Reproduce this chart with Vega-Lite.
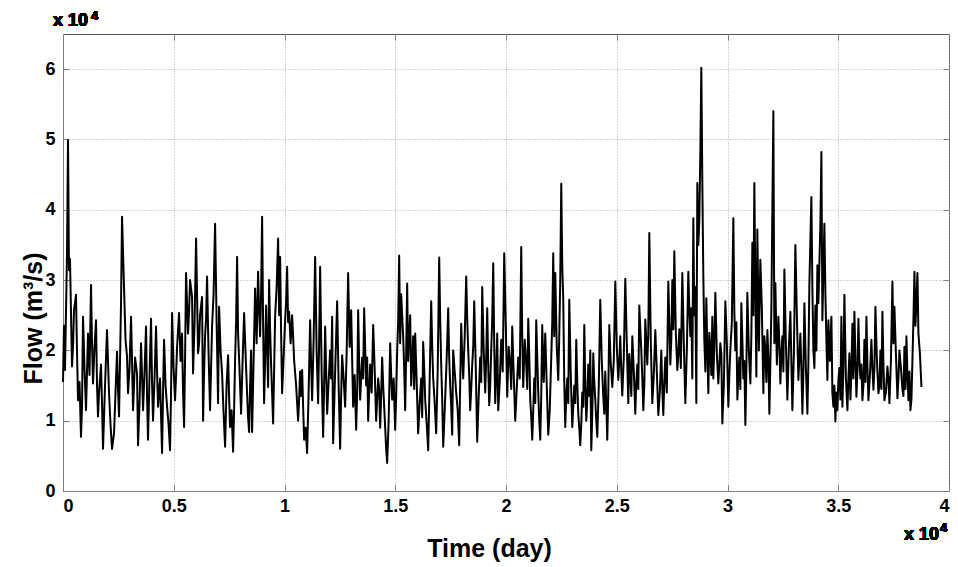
{
  "$schema": "https://vega.github.io/schema/vega-lite/v6.json",
  "width": 886,
  "height": 457,
  "autosize": {"type": "none"},
  "padding": {"left": 63, "top": 34, "right": 9, "bottom": 76},
  "background": "white",
  "config": {
    "view": {"stroke": "#555555", "strokeWidth": 1},
    "axis": {
      "labelFont": "Liberation Sans",
      "labelFontWeight": "bold",
      "labelFontSize": 18,
      "labelColor": "#000000",
      "titleFont": "Liberation Sans",
      "titleFontWeight": "bold",
      "titleFontSize": 25,
      "titleColor": "#000000",
      "domainColor": "#808080",
      "grid": true,
      "gridColor": "#a8a8a8",
      "gridDash": [1, 2],
      "gridWidth": 1,
      "tickColor": "#808080",
      "tickSize": -6
    }
  },
  "resolve": {"axis": {"x": "independent", "y": "independent"}},
  "data": {
    "values": [
      {"d":0,"q":15500},{"d":45,"q":23500},{"d":90,"q":17200},{"d":181,"q":33800},{"d":226,"q":49900},{"d":271,"q":31400},{"d":316,"q":33000},{"d":407,"q":17700},{"d":497,"q":25700},{"d":587,"q":27900},
      {"d":678,"q":12900},{"d":813,"q":7700},{"d":903,"q":24800},{"d":1039,"q":11500},{"d":1129,"q":22400},{"d":1265,"q":29300},{"d":1355,"q":15300},{"d":1491,"q":24300},{"d":1581,"q":10600},{"d":1626,"q":13900},
      {"d":1716,"q":18000},{"d":1807,"q":6000},{"d":1897,"q":15000},{"d":1987,"q":22900},{"d":2078,"q":13900},{"d":2213,"q":6000},{"d":2304,"q":8200},{"d":2439,"q":19800},{"d":2530,"q":10600},{"d":2620,"q":26700},
      {"d":2665,"q":39000},{"d":2755,"q":29000},{"d":2891,"q":19100},{"d":2936,"q":13900},{"d":3072,"q":24800},{"d":3162,"q":11500},{"d":3252,"q":19000},{"d":3343,"q":16700},{"d":3388,"q":6500},{"d":3523,"q":21000},
      {"d":3614,"q":11500},{"d":3749,"q":23400},{"d":3839,"q":7300},{"d":3975,"q":24500},{"d":4065,"q":10000},{"d":4201,"q":23400},{"d":4291,"q":12000},{"d":4381,"q":16000},{"d":4472,"q":5400},{"d":4562,"q":21500},
      {"d":4698,"q":12000},{"d":4833,"q":5800},{"d":4924,"q":25300},{"d":5059,"q":12900},{"d":5240,"q":25300},{"d":5375,"q":22400},{"d":5466,"q":9100},{"d":5556,"q":31000},{"d":5646,"q":22400},{"d":5737,"q":30000},
      {"d":5827,"q":27600},{"d":5872,"q":16700},{"d":6008,"q":35900},{"d":6098,"q":19600},{"d":6188,"q":25000},{"d":6279,"q":27600},{"d":6324,"q":10000},{"d":6504,"q":30500},{"d":6640,"q":11500},{"d":6730,"q":23400},
      {"d":6866,"q":38000},{"d":7001,"q":12500},{"d":7047,"q":26200},{"d":7182,"q":16700},{"d":7318,"q":6300},{"d":7453,"q":19300},{"d":7543,"q":9100},{"d":7679,"q":5600},{"d":7769,"q":18600},{"d":7860,"q":33300},
      {"d":7905,"q":22400},{"d":8040,"q":11000},{"d":8176,"q":25300},{"d":8311,"q":13900},{"d":8402,"q":8400},{"d":8492,"q":20000},{"d":8537,"q":8400},{"d":8673,"q":28800},{"d":8808,"q":31200},{"d":8898,"q":22000},
      {"d":8989,"q":39000},{"d":9079,"q":12500},{"d":9170,"q":26400},{"d":9260,"q":14800},{"d":9305,"q":30000},{"d":9395,"q":18000},{"d":9486,"q":9600},{"d":9576,"q":24800},{"d":9712,"q":35900},{"d":9802,"q":33300},
      {"d":9892,"q":13900},{"d":10028,"q":24300},{"d":10118,"q":31900},{"d":10208,"q":25500},{"d":10344,"q":25000},{"d":10434,"q":18600},{"d":10525,"q":15000},{"d":10615,"q":10000},{"d":10705,"q":17000},{"d":10796,"q":17200},
      {"d":10886,"q":7300},{"d":11021,"q":5400},{"d":11157,"q":24300},{"d":11247,"q":12900},{"d":11383,"q":33300},{"d":11518,"q":12500},{"d":11609,"q":31900},{"d":11744,"q":7700},{"d":11835,"q":23400},{"d":11925,"q":11000},
      {"d":12060,"q":20000},{"d":12151,"q":24800},{"d":12196,"q":6800},{"d":12377,"q":27000},{"d":12512,"q":6000},{"d":12602,"q":19300},{"d":12738,"q":12000},{"d":12873,"q":31000},{"d":13009,"q":25700},{"d":13099,"q":12000},
      {"d":13235,"q":8700},{"d":13325,"q":25700},{"d":13415,"q":13000},{"d":13506,"q":19000},{"d":13596,"q":26000},{"d":13686,"q":15000},{"d":13777,"q":10000},{"d":13867,"q":18000},{"d":14003,"q":23600},{"d":14138,"q":10000},
      {"d":14229,"q":16000},{"d":14319,"q":9000},{"d":14409,"q":19000},{"d":14500,"q":12000},{"d":14590,"q":6000},{"d":14635,"q":4000},{"d":14771,"q":21000},{"d":14861,"q":13000},{"d":14996,"q":8700},{"d":15087,"q":20000},
      {"d":15177,"q":33500},{"d":15267,"q":28000},{"d":15358,"q":22000},{"d":15448,"q":11500},{"d":15538,"q":29500},{"d":15629,"q":22000},{"d":15719,"q":15000},{"d":15810,"q":22000},{"d":15900,"q":22400},{"d":16035,"q":8200},
      {"d":16171,"q":16000},{"d":16261,"q":21200},{"d":16352,"q":13000},{"d":16487,"q":5800},{"d":16623,"q":27000},{"d":16713,"q":16000},{"d":16848,"q":8200},{"d":16984,"q":33200},{"d":17074,"q":18000},{"d":17165,"q":6300},
      {"d":17300,"q":17000},{"d":17390,"q":26000},{"d":17481,"q":15000},{"d":17571,"q":8000},{"d":17616,"q":20000},{"d":17752,"q":14000},{"d":17887,"q":6500},{"d":17978,"q":23800},{"d":18068,"q":16000},{"d":18204,"q":30500},
      {"d":18294,"q":20000},{"d":18384,"q":11500},{"d":18475,"q":18000},{"d":18565,"q":27000},{"d":18700,"q":7000},{"d":18836,"q":19000},{"d":18926,"q":29000},{"d":19062,"q":14000},{"d":19152,"q":26000},{"d":19242,"q":12200},
      {"d":19423,"q":32400},{"d":19513,"q":12500},{"d":19604,"q":22400},{"d":19649,"q":11500},{"d":19784,"q":21500},{"d":19920,"q":33800},{"d":20055,"q":13400},{"d":20191,"q":18000},{"d":20281,"q":23400},{"d":20417,"q":10000},
      {"d":20552,"q":19000},{"d":20688,"q":34700},{"d":20778,"q":14800},{"d":20914,"q":18000},{"d":21004,"q":24500},{"d":21094,"q":13000},{"d":21185,"q":7300},{"d":21275,"q":16000},{"d":21365,"q":24300},{"d":21456,"q":14000},
      {"d":21546,"q":7300},{"d":21636,"q":23600},{"d":21772,"q":22400},{"d":21907,"q":8000},{"d":22043,"q":19000},{"d":22133,"q":33800},{"d":22224,"q":31000},{"d":22359,"q":15800},{"d":22449,"q":30000},{"d":22495,"q":43700},
      {"d":22585,"q":27200},{"d":22675,"q":9100},{"d":22766,"q":16000},{"d":22856,"q":27200},{"d":22992,"q":9100},{"d":23082,"q":15000},{"d":23172,"q":21500},{"d":23263,"q":11000},{"d":23353,"q":6500},{"d":23443,"q":14000},
      {"d":23534,"q":23600},{"d":23624,"q":10000},{"d":23714,"q":18000},{"d":23805,"q":20000},{"d":23850,"q":5800},{"d":23940,"q":19600},{"d":24030,"q":13000},{"d":24121,"q":7700},{"d":24256,"q":27200},{"d":24392,"q":13400},
      {"d":24482,"q":17000},{"d":24572,"q":7300},{"d":24663,"q":23600},{"d":24798,"q":14800},{"d":24934,"q":29800},{"d":25069,"q":15800},{"d":25160,"q":22000},{"d":25250,"q":13600},{"d":25386,"q":30200},{"d":25521,"q":12500},
      {"d":25611,"q":17000},{"d":25702,"q":22000},{"d":25837,"q":11000},{"d":25928,"q":18000},{"d":26018,"q":26400},{"d":26108,"q":20000},{"d":26199,"q":11500},{"d":26289,"q":24400},{"d":26379,"q":18000},{"d":26470,"q":36700},
      {"d":26605,"q":12500},{"d":26741,"q":22900},{"d":26876,"q":10800},{"d":27012,"q":20000},{"d":27102,"q":10800},{"d":27192,"q":19000},{"d":27328,"q":29800},{"d":27418,"q":18000},{"d":27509,"q":30000},{"d":27599,"q":34100},
      {"d":27734,"q":17200},{"d":27825,"q":23000},{"d":27960,"q":31000},{"d":28096,"q":12500},{"d":28231,"q":31200},{"d":28322,"q":22000},{"d":28412,"q":16000},{"d":28457,"q":38800},{"d":28502,"q":25000},{"d":28593,"q":12500},
      {"d":28638,"q":43800},{"d":28683,"q":35000},{"d":28728,"q":38600},{"d":28773,"q":48000},{"d":28818,"q":60200},{"d":28864,"q":43800},{"d":28954,"q":21500},{"d":29044,"q":27400},{"d":29135,"q":13900},{"d":29225,"q":20000},
      {"d":29315,"q":24800},{"d":29361,"q":16000},{"d":29451,"q":28200},{"d":29586,"q":15300},{"d":29677,"q":21000},{"d":29767,"q":9600},{"d":29903,"q":27000},{"d":30038,"q":12000},{"d":30128,"q":20000},{"d":30264,"q":38800},
      {"d":30354,"q":20000},{"d":30445,"q":13000},{"d":30535,"q":19000},{"d":30625,"q":26700},{"d":30716,"q":16000},{"d":30806,"q":9400},{"d":30896,"q":28200},{"d":31032,"q":15300},{"d":31122,"q":35300},{"d":31212,"q":43800},
      {"d":31303,"q":16300},{"d":31348,"q":37200},{"d":31483,"q":32900},{"d":31619,"q":13900},{"d":31709,"q":20000},{"d":31800,"q":22900},{"d":31890,"q":11000},{"d":31980,"q":25800},{"d":32071,"q":54000},{"d":32161,"q":29600},
      {"d":32297,"q":24800},{"d":32387,"q":15300},{"d":32477,"q":22000},{"d":32568,"q":31500},{"d":32703,"q":13000},{"d":32839,"q":25500},{"d":32929,"q":11500},{"d":33064,"q":35000},{"d":33200,"q":15800},{"d":33290,"q":22400},
      {"d":33381,"q":11000},{"d":33471,"q":26700},{"d":33606,"q":11000},{"d":33697,"q":29500},{"d":33787,"q":41800},{"d":33878,"q":20000},{"d":33968,"q":26400},{"d":34058,"q":32100},{"d":34103,"q":26700},{"d":34194,"q":38000},
      {"d":34239,"q":48200},{"d":34284,"q":24300},{"d":34374,"q":38000},{"d":34420,"q":28000},{"d":34510,"q":15800},{"d":34555,"q":24300},{"d":34691,"q":24800},{"d":34736,"q":13900},{"d":34781,"q":12000},{"d":34871,"q":9900},
      {"d":34916,"q":14000},{"d":35007,"q":15800},{"d":35097,"q":13000},{"d":35142,"q":24800},{"d":35187,"q":12000},{"d":35278,"q":27900},{"d":35413,"q":11500},{"d":35504,"q":19600},{"d":35549,"q":13000},{"d":35639,"q":23800},
      {"d":35729,"q":25500},{"d":35820,"q":13400},{"d":35910,"q":24500},{"d":36000,"q":16000},{"d":36091,"q":12900},{"d":36181,"q":21500},{"d":36272,"q":24800},{"d":36362,"q":12900},{"d":36497,"q":21500},{"d":36588,"q":14400},
      {"d":36678,"q":26200},{"d":36814,"q":13900},{"d":36904,"q":20000},{"d":36994,"q":25500},{"d":37085,"q":12900},{"d":37220,"q":17700},{"d":37310,"q":12500},{"d":37446,"q":29800},{"d":37536,"q":26200},{"d":37672,"q":13200},
      {"d":37762,"q":20000},{"d":37898,"q":14400},{"d":37988,"q":20500},{"d":38078,"q":22000},{"d":38169,"q":12900},{"d":38259,"q":11500},{"d":38349,"q":18600},{"d":38440,"q":31200},{"d":38530,"q":27000},{"d":38575,"q":31000},
      {"d":38620,"q":22400},{"d":38756,"q":14800},
      {"d":452,"q":20500},{"d":632,"q":20000},{"d":745,"q":15500},{"d":858,"q":12000},{"d":970,"q":17500},{"d":1197,"q":16500},{"d":1310,"q":21000},{"d":1423,"q":20500},{"d":1536,"q":15000},{"d":1761,"q":12500},
      {"d":1852,"q":10500},{"d":1942,"q":19000},{"d":2145,"q":9500},{"d":2371,"q":14000},{"d":2485,"q":14500},{"d":2823,"q":21500},{"d":3004,"q":17500},{"d":3117,"q":18500},{"d":3207,"q":15000},{"d":3455,"q":12500},
      {"d":3568,"q":16500},{"d":3681,"q":17000},{"d":3794,"q":13500},{"d":3907,"q":16500},{"d":4020,"q":15500},{"d":4133,"q":16000},{"d":4246,"q":17000},{"d":4517,"q":14000},{"d":4630,"q":15000},{"d":4765,"q":9500},
      {"d":4878,"q":14000},{"d":4991,"q":17500},{"d":5105,"q":16500},{"d":5150,"q":20500},{"d":5307,"q":18500},{"d":5420,"q":14000},{"d":5511,"q":19000},{"d":5691,"q":25500},{"d":5940,"q":24000},{"d":6143,"q":21000},
      {"d":6370,"q":17000},{"d":6414,"q":22000},{"d":6460,"q":24500},{"d":6572,"q":19500},{"d":6685,"q":17500},{"d":6798,"q":28000},{"d":6933,"q":24500},{"d":7115,"q":20000},{"d":7250,"q":11000},{"d":7385,"q":15000},
      {"d":7498,"q":13500},{"d":7611,"q":11500},{"d":7724,"q":11500},{"d":7815,"q":24000},{"d":7972,"q":17000},{"d":8108,"q":18500},{"d":8243,"q":19500},{"d":8356,"q":10500},{"d":8447,"q":15000},{"d":8605,"q":18500},
      {"d":8740,"q":21000},{"d":8853,"q":26000},{"d":8943,"q":28000},{"d":9034,"q":24000},{"d":9124,"q":18500},{"d":9215,"q":20500},{"d":9350,"q":23000},{"d":9440,"q":14000},{"d":9531,"q":17000},{"d":9644,"q":29000},
      {"d":9757,"q":25000},{"d":9847,"q":22500},{"d":9960,"q":19000},{"d":10073,"q":27000},{"d":10163,"q":24000},{"d":10276,"q":21000},{"d":10389,"q":22000},{"d":10660,"q":13000},{"d":10750,"q":13500},{"d":10841,"q":12000},
      {"d":10953,"q":9000},{"d":11089,"q":14000},{"d":11202,"q":18000},{"d":11315,"q":21500},{"d":11450,"q":20000},{"d":11563,"q":21000},{"d":11676,"q":17000},{"d":11789,"q":15000},{"d":11880,"q":17000},{"d":11992,"q":15500},
      {"d":12105,"q":16000},{"d":12286,"q":17000},{"d":12444,"q":15000},{"d":12557,"q":13500},{"d":12670,"q":16000},{"d":12805,"q":19500},{"d":12941,"q":20500},{"d":13167,"q":16500},{"d":13280,"q":14000},{"d":13370,"q":18500},
      {"d":13551,"q":16000},{"d":13641,"q":20500},{"d":13731,"q":19000},{"d":13935,"q":14000},{"d":14070,"q":17500},{"d":14183,"q":13000},{"d":14274,"q":14500},{"d":14364,"q":13500},{"d":14455,"q":15000},{"d":14703,"q":10000},
      {"d":14816,"q":16500},{"d":14928,"q":16000},{"d":15041,"q":13500},{"d":15132,"q":24000},{"d":15222,"q":21000},{"d":15312,"q":25000},{"d":15403,"q":17500},{"d":15493,"q":19500},{"d":15583,"q":18500},{"d":15674,"q":25000},
      {"d":15764,"q":18500},{"d":15855,"q":14500},{"d":15968,"q":15500},{"d":16103,"q":12500},{"d":16216,"q":10500},{"d":16307,"q":17500},{"d":16420,"q":9500},{"d":16555,"q":16000},{"d":16668,"q":20500},{"d":16781,"q":12500},
      {"d":16916,"q":17000},{"d":17029,"q":24500},{"d":17120,"q":13000},{"d":17233,"q":11500},{"d":17345,"q":21000},{"d":17435,"q":19000},{"d":17526,"q":12000},{"d":17684,"q":17000},{"d":17820,"q":11500},{"d":17933,"q":15500},
      {"d":18023,"q":19000},{"d":18136,"q":22000},{"d":18249,"q":24500},{"d":18339,"q":16500},{"d":18430,"q":14500},{"d":18520,"q":20500},{"d":18633,"q":18000},{"d":18768,"q":13500},{"d":18881,"q":15500},{"d":18994,"q":20000},
      {"d":19107,"q":19000},{"d":19197,"q":18000},{"d":19287,"q":15000},{"d":19332,"q":20000},{"d":19378,"q":24500},{"d":19468,"q":21000},{"d":19558,"q":16500},{"d":19717,"q":15500},{"d":19852,"q":17000},{"d":19988,"q":24000},
      {"d":20123,"q":20500},{"d":20236,"q":14500},{"d":20349,"q":16500},{"d":20485,"q":14500},{"d":20620,"q":16000},{"d":20733,"q":22000},{"d":20846,"q":21500},{"d":20959,"q":14500},{"d":21049,"q":19500},{"d":21140,"q":10500},
      {"d":21230,"q":11500},{"d":21320,"q":12500},{"d":21411,"q":19000},{"d":21501,"q":10000},{"d":21591,"q":13500},{"d":21704,"q":15500},{"d":21840,"q":15000},{"d":21975,"q":11500},{"d":22088,"q":24000},{"d":22179,"q":22000},
      {"d":22292,"q":20500},{"d":22404,"q":22000},{"d":22540,"q":32000},{"d":22630,"q":15500},{"d":22720,"q":13500},{"d":22811,"q":12500},{"d":22924,"q":16500},{"d":23037,"q":12000},{"d":23127,"q":12500},{"d":23218,"q":15500},
      {"d":23308,"q":9000},{"d":23398,"q":9500},{"d":23489,"q":12000},{"d":23579,"q":15500},{"d":23669,"q":13000},{"d":23760,"q":13500},{"d":23895,"q":11000},{"d":23985,"q":15500},{"d":24076,"q":10000},{"d":24189,"q":15000},
      {"d":24324,"q":18500},{"d":24437,"q":11000},{"d":24527,"q":12500},{"d":24618,"q":14000},{"d":24731,"q":18000},{"d":24866,"q":18500},{"d":25002,"q":20500},{"d":25115,"q":18500},{"d":25205,"q":17000},{"d":25318,"q":19000},
      {"d":25454,"q":21000},{"d":25566,"q":19500},{"d":25657,"q":13500},{"d":25770,"q":17000},{"d":25883,"q":15500},{"d":25973,"q":14500},{"d":26063,"q":23000},{"d":26154,"q":16000},{"d":26244,"q":15000},{"d":26334,"q":21500},
      {"d":26425,"q":22500},{"d":26538,"q":21000},{"d":26673,"q":16500},{"d":26809,"q":17000},{"d":26944,"q":14000},{"d":27057,"q":14500},{"d":27147,"q":15500},{"d":27260,"q":14000},{"d":27373,"q":24000},{"d":27463,"q":21500},
      {"d":27554,"q":23000},{"d":27667,"q":22500},{"d":27780,"q":19500},{"d":27893,"q":17500},{"d":28028,"q":21000},{"d":28164,"q":20000},{"d":28276,"q":26000},{"d":28367,"q":26000},{"d":28548,"q":29000},{"d":28909,"q":30500},
      {"d":29000,"q":17000},{"d":29090,"q":20000},{"d":29180,"q":22500},{"d":29270,"q":16500},{"d":29406,"q":21000},{"d":29519,"q":19500},{"d":29632,"q":18000},{"d":29722,"q":19500},{"d":29835,"q":15000},{"d":29971,"q":21000},
      {"d":30083,"q":16500},{"d":30196,"q":24000},{"d":30309,"q":25500},{"d":30400,"q":24000},{"d":30490,"q":16500},{"d":30580,"q":14500},{"d":30671,"q":21500},{"d":30761,"q":18500},{"d":30851,"q":17000},{"d":30964,"q":20000},
      {"d":31077,"q":22000},{"d":31167,"q":25000},{"d":31258,"q":29000},{"d":31416,"q":20000},{"d":31551,"q":26000},{"d":31664,"q":22000},{"d":31755,"q":15500},{"d":31845,"q":19000},{"d":31935,"q":18000},{"d":32116,"q":21000},
      {"d":32229,"q":18000},{"d":32342,"q":21000},{"d":32432,"q":19500},{"d":32523,"q":17000},{"d":32636,"q":21000},{"d":32771,"q":20500},{"d":32884,"q":18500},{"d":32997,"q":19500},{"d":33132,"q":25000},{"d":33245,"q":19000},
      {"d":33335,"q":17500},{"d":33426,"q":17000},{"d":33539,"q":17500},{"d":33651,"q":18000},{"d":33832,"q":29000},{"d":33923,"q":17500},{"d":34013,"q":20000},{"d":34465,"q":21500},{"d":34623,"q":18500},{"d":34826,"q":15000},
      {"d":34961,"q":11500},{"d":35052,"q":17500},{"d":35232,"q":17500},{"d":35346,"q":16000},{"d":35458,"q":16000},{"d":35594,"q":17000},{"d":35684,"q":16000},{"d":35775,"q":19000},{"d":35865,"q":17000},{"d":35955,"q":18500},
      {"d":36045,"q":18000},{"d":36136,"q":15000},{"d":36227,"q":15500},{"d":36317,"q":18000},{"d":36430,"q":16500},{"d":36542,"q":17500},{"d":36633,"q":17500},{"d":36746,"q":18500},{"d":36859,"q":15000},{"d":36949,"q":14500},
      {"d":37040,"q":18000},{"d":37152,"q":14000},{"d":37265,"q":16000},{"d":37378,"q":18500},{"d":37491,"q":21000},{"d":37604,"q":19500},{"d":37717,"q":16000},{"d":37830,"q":17500},{"d":37943,"q":13500},{"d":38033,"q":14500},
      {"d":38124,"q":16500},{"d":38214,"q":17000},{"d":38304,"q":13000},{"d":38395,"q":24500},{"d":38485,"q":23500},{"d":38688,"q":19500}
    ]
  },
  "layer": [
    {
      "mark": {"type": "line", "color": "#000000", "strokeWidth": 2, "strokeJoin": "round"},
      "encoding": {
        "x": {
          "field": "d", "type": "quantitative",
          "scale": {"domain": [0, 40000], "nice": false, "zero": false},
          "axis": {
            "values": [0, 5000, 10000, 15000, 20000, 25000, 30000, 35000, 40000],
            "labelExpr": "datum.value / 10000",
            "labelPadding": 12,
            "title": "Time (day)",
            "titleX": 426,
            "titleY": 65,
            "titleBaseline": "alphabetic"
          }
        },
        "y": {
          "field": "q", "type": "quantitative",
          "scale": {"domain": [0, 65000], "nice": false},
          "axis": {
            "values": [0, 10000, 20000, 30000, 40000, 50000, 60000],
            "labelExpr": "datum.value / 10000",
            "labelPadding": 14,
            "title": "Flow (m³/s)",
            "titleX": -22,
            "titleY": 284,
            "titleBaseline": "alphabetic"
          }
        }
      }
    },
    {
      "mark": {"type": "rule", "opacity": 0},
      "encoding": {
        "x": {"datum": 0, "type": "quantitative", "axis": {"orient": "top", "values": [5000, 10000, 15000, 20000, 25000, 30000, 35000], "labels": false, "grid": false, "domain": false, "title": null}},
        "y": {"datum": 0, "type": "quantitative", "axis": {"orient": "right", "values": [10000, 20000, 30000, 40000, 50000, 60000], "labels": false, "grid": false, "domain": false, "title": null}}
      }
    },
    {
      "mark": {"type": "text", "text": "x 10", "font": "Liberation Sans", "fontWeight": "bold", "fontSize": 18, "align": "left", "baseline": "alphabetic", "dx": -10, "dy": -8, "color": "#000000"},
      "encoding": {"x": {"datum": 0, "axis": null}, "y": {"datum": 65000, "axis": null}}
    },
    {
      "mark": {"type": "text", "text": "4", "font": "Liberation Sans", "fontWeight": "bold", "fontSize": 13, "align": "left", "baseline": "alphabetic", "dx": 28, "dy": -14, "color": "#000000"},
      "encoding": {"x": {"datum": 0, "axis": null}, "y": {"datum": 65000, "axis": null}}
    },
    {
      "mark": {"type": "text", "text": "x 10", "font": "Liberation Sans", "fontWeight": "bold", "fontSize": 18, "align": "left", "baseline": "alphabetic", "dx": -45, "dy": 49, "color": "#000000"},
      "encoding": {"x": {"datum": 40000, "axis": null}, "y": {"datum": 0, "axis": null}}
    },
    {
      "mark": {"type": "text", "text": "4", "font": "Liberation Sans", "fontWeight": "bold", "fontSize": 13, "align": "left", "baseline": "alphabetic", "dx": -9, "dy": 41, "color": "#000000"},
      "encoding": {"x": {"datum": 40000, "axis": null}, "y": {"datum": 0, "axis": null}}
    }
  ]
}
